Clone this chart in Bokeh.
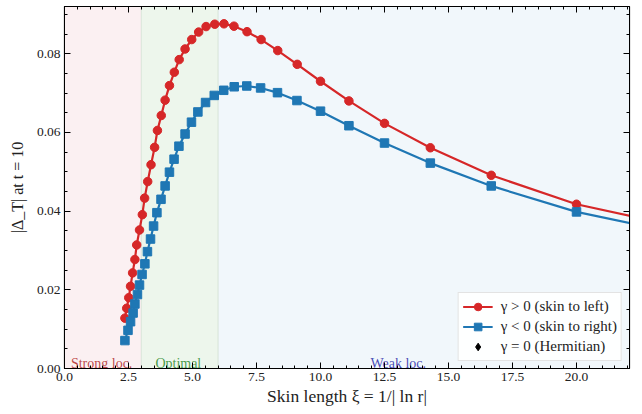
from bokeh.plotting import figure
from bokeh.models import (LinearAxis, SingleIntervalTicker, PrintfTickFormatter, CustomJSTickFormatter,
                          CustomLabelingPolicy, BoxAnnotation, Legend, LegendItem, ColumnDataSource,
                          Range1d, Span)
from bokeh.core.properties import value
from bokeh.embed import file_html
from bokeh.resources import INLINE

# gamma > 0 (skin to left)
xi_left = [2.36, 2.43, 2.51, 2.58, 2.66, 2.75, 2.82, 2.93, 3.04, 3.13, 3.25, 3.38, 3.52,
           3.63, 3.78, 3.93, 4.10, 4.29, 4.48, 4.71, 4.97, 5.24, 5.53, 5.87, 6.23, 6.62,
           7.13, 7.68, 8.33, 9.09, 10.0, 11.11, 12.5, 14.29, 16.67, 20.0, 25.0]
delta_left = [0.0128, 0.0153, 0.0180, 0.0209, 0.0243, 0.0277, 0.0314, 0.0352, 0.0391, 0.0433,
              0.0475, 0.0518, 0.0562, 0.0605, 0.0643, 0.0682, 0.0719, 0.0753, 0.0785, 0.0812,
              0.0836, 0.0855, 0.0869, 0.0875, 0.0876, 0.0870, 0.0856, 0.0836, 0.0808, 0.0773,
              0.0730, 0.0680, 0.0623, 0.0561, 0.0491, 0.04175, 0.0346]

# gamma < 0 (skin to right)
xi_right = [2.36, 2.48, 2.58, 2.68, 2.75, 2.85, 2.93, 3.03, 3.14, 3.24, 3.36, 3.48, 3.61,
            3.77, 3.93, 4.10, 4.28, 4.47, 4.71, 4.96, 5.21, 5.51, 5.85, 6.22, 6.63, 7.12,
            7.66, 8.32, 9.08, 10.0, 11.11, 12.5, 14.29, 16.67, 20.0, 25.0]
delta_right = [0.0071, 0.0097, 0.0119, 0.0141, 0.0164, 0.0188, 0.0212, 0.0239, 0.0266, 0.0297,
               0.0329, 0.0362, 0.0396, 0.0430, 0.0464, 0.0499, 0.0532, 0.0565, 0.0596, 0.0626,
               0.0652, 0.0676, 0.0694, 0.0707, 0.0716, 0.0718, 0.0713, 0.0701, 0.0681, 0.0654,
               0.0617, 0.0573, 0.0522, 0.0464, 0.0398, 0.0330]

# gamma = 0 (Hermitian): no visible points in this window
xi_herm = [float("nan")]
delta_herm = [float("nan")]

# localisation regimes
region_names = ["Strong loc.", "Optimal", "Weak loc."]
region_start = [0.0, 3.0, 6.0]
region_end = [3.0, 6.0, 30.0]
region_fill = ["#fbf0f2", "#edf6ec", "#f1f7fb"]
region_text_color = ["#b02828", "#2a8a2a", "#2828a8"]
region_label_x = [0.25, 3.55, 11.95]

legend_labels = ["γ > 0 (skin to left)", "γ < 0 (skin to right)", "γ = 0 (Hermitian)"]

FONT = "Liberation Serif"
RED = "#d62728"
BLUE = "#1f77b4"

p = figure(width=642, height=414, output_backend="svg", toolbar_location=None,
           x_range=Range1d(0, 22.07), y_range=Range1d(0, 0.092),
           min_border_left=64, min_border_right=13, min_border_top=6, min_border_bottom=46)
p.background_fill_color = "white"
p.border_fill_color = "white"
p.outline_line_color = "black"
p.outline_line_width = 1.2

for s, e, c in zip(region_start, region_end, region_fill):
    p.add_layout(BoxAnnotation(left=s, right=e, fill_color=c, fill_alpha=1.0,
                               line_color=None, level="underlay"))
for s in region_start[1:]:
    p.add_layout(Span(location=s, dimension="height", line_color="#c8d8c8",
                      line_width=1, line_alpha=0.6, level="underlay"))

# grid
p.xgrid.grid_line_color = "#bbbbbb"
p.ygrid.grid_line_color = "#bbbbbb"
p.xgrid.grid_line_alpha = 0.5
p.ygrid.grid_line_alpha = 0.5
p.xgrid.grid_line_dash = "3 3"
p.ygrid.grid_line_dash = "3 3"
p.xgrid.grid_line_width = 0.8
p.ygrid.grid_line_width = 0.8

xt = SingleIntervalTicker(interval=2.5, num_minor_ticks=5)
yt = SingleIntervalTicker(interval=0.02, num_minor_ticks=4)
p.xaxis.ticker = xt
p.yaxis.ticker = yt
p.xgrid.ticker = xt
p.ygrid.ticker = yt
p.xaxis.formatter = PrintfTickFormatter(format="%.1f")
p.yaxis.formatter = PrintfTickFormatter(format="%.2f")

for ax in (p.xaxis[0], p.yaxis[0]):
    ax.major_tick_in = 6
    ax.major_tick_out = 0
    ax.minor_tick_in = 3
    ax.minor_tick_out = 0
    ax.axis_line_color = "black"
    ax.major_label_text_font = FONT
    ax.major_label_text_font_size = "13.5px"
    ax.major_label_text_color = "#222222"
    ax.axis_label_text_font = FONT
    ax.axis_label_text_font_style = "normal"
    ax.axis_label_text_color = "#222222"
    ax.major_label_standoff = 4

p.xaxis.axis_label = "Skin length ξ = 1/| ln r|"
p.yaxis.axis_label = "|Δ_T| at t = 10"
p.xaxis.axis_label_text_font_size = "17.5px"
p.yaxis.axis_label_text_font_size = "16px"
p.xaxis.axis_label_standoff = 2
p.yaxis.axis_label_standoff = 8

# mirrored tick marks on top and right (no labels)
no_labels = CustomLabelingPolicy(code="""
    for (let i = 0; i < indices.size; i++) { indices.unset(i) }
    return indices
""")
blank = CustomJSTickFormatter(code="return ''")
top = LinearAxis(ticker=xt, formatter=blank, major_label_policy=no_labels,
                 major_tick_in=6, major_tick_out=0, minor_tick_in=3, minor_tick_out=0,
                 axis_line_color="black", major_label_standoff=0)
right = LinearAxis(ticker=yt, formatter=blank, major_label_policy=no_labels,
                   major_tick_in=6, major_tick_out=0, minor_tick_in=3, minor_tick_out=0,
                   axis_line_color="black", major_label_standoff=0)
p.add_layout(top, "above")
p.add_layout(right, "right")

# region labels (sit on the bottom axis, descenders clipped)
src_regions = ColumnDataSource(dict(x=region_label_x, y=[0.0] * 3, t=region_names,
                                    c=region_text_color))
p.text(x="x", y="y", text="t", text_color="c", source=src_regions,
       text_font=value(FONT), text_font_size="14px", text_baseline="bottom",
       y_offset=2, text_align="left", text_alpha=0.85)

src_l = ColumnDataSource(dict(x=xi_left, y=delta_left))
src_r = ColumnDataSource(dict(x=xi_right, y=delta_right))
src_h = ColumnDataSource(dict(x=xi_herm, y=delta_herm))

l_line = p.line("x", "y", source=src_l, color=RED, line_width=2.2)
l_pts = p.scatter("x", "y", source=src_l, marker="circle", size=8.5, color=RED)
r_line = p.line("x", "y", source=src_r, color=BLUE, line_width=2.2)
r_pts = p.scatter("x", "y", source=src_r, marker="square", size=8.5, color=BLUE)
h_pts = p.scatter("x", "y", source=src_h, marker="diamond", size=14, color="black")

legend = Legend(items=[
    LegendItem(label=legend_labels[0], renderers=[l_line, l_pts]),
    LegendItem(label=legend_labels[1], renderers=[r_line, r_pts]),
    LegendItem(label=legend_labels[2], renderers=[h_pts]),
], location="bottom_right")
legend.label_text_font = FONT
legend.label_text_font_size = "15px"
legend.label_text_color = "#222222"
legend.border_line_color = "#c8c8c8"
legend.border_line_width = 1.2
legend.background_fill_color = "white"
legend.background_fill_alpha = 0.9
legend.margin = 7
legend.padding = 4
legend.spacing = 1
legend.glyph_width = 30
legend.glyph_height = 19
legend.label_height = 19
legend.label_standoff = 8
p.add_layout(legend)

open("out.html", "w").write(file_html(p, INLINE))
